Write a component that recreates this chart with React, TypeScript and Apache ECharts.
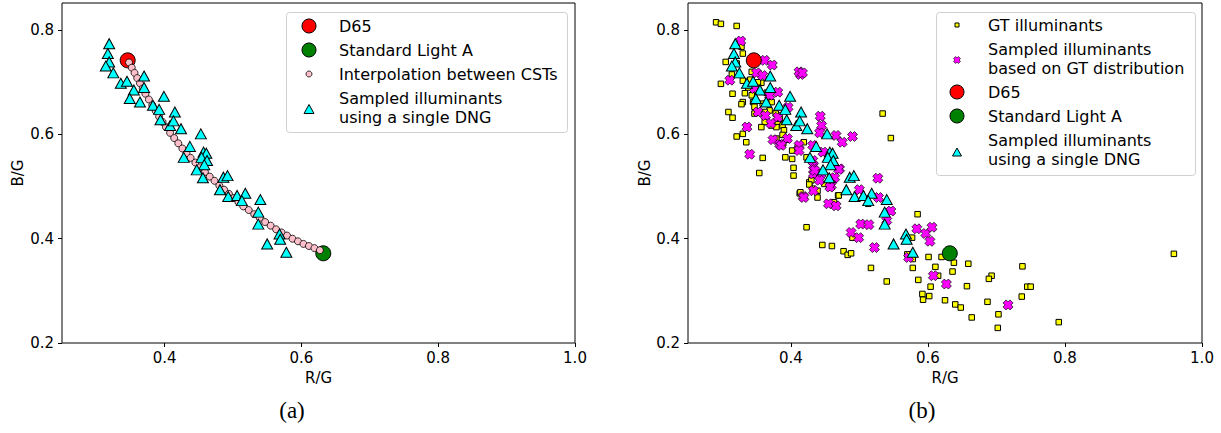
import React, { useEffect, useRef } from "react";
import * as echarts from "echarts";

// ---------- data ----------
const xTicks = [0.4, 0.6, 0.8, 1.0];
const yTicks = [0.2, 0.4, 0.6, 0.8];

const d65 = [[0.346, 0.742]];
const lightA = [[0.632, 0.372]];

const interpolation = [
  [0.348, 0.738], [0.352, 0.728], [0.356, 0.718], [0.360, 0.708], [0.364, 0.698],
  [0.368, 0.688], [0.372, 0.678], [0.377, 0.667], [0.382, 0.656], [0.387, 0.645],
  [0.392, 0.634], [0.397, 0.624], [0.402, 0.614], [0.408, 0.603], [0.414, 0.593],
  [0.420, 0.583], [0.426, 0.573], [0.432, 0.564], [0.438, 0.555], [0.445, 0.546],
  [0.452, 0.537], [0.459, 0.528], [0.466, 0.519], [0.473, 0.511], [0.480, 0.502],
  [0.487, 0.494], [0.494, 0.486], [0.501, 0.478], [0.508, 0.470], [0.515, 0.462],
  [0.523, 0.455], [0.531, 0.447], [0.539, 0.440], [0.547, 0.432], [0.555, 0.425],
  [0.563, 0.418], [0.571, 0.412], [0.579, 0.406], [0.587, 0.400], [0.595, 0.395],
  [0.603, 0.390], [0.611, 0.386], [0.619, 0.382], [0.627, 0.378],
];

const singleDng = [
  [0.319, 0.774], [0.317, 0.755], [0.319, 0.739], [0.314, 0.731], [0.325, 0.718],
  [0.336, 0.698], [0.345, 0.702], [0.370, 0.712], [0.355, 0.685], [0.370, 0.690],
  [0.349, 0.669], [0.364, 0.662], [0.399, 0.673], [0.383, 0.656], [0.392, 0.648],
  [0.415, 0.643], [0.394, 0.628], [0.408, 0.617], [0.413, 0.626], [0.424, 0.611],
  [0.453, 0.601], [0.437, 0.577], [0.428, 0.556], [0.457, 0.566], [0.461, 0.564],
  [0.454, 0.556], [0.462, 0.550], [0.458, 0.542], [0.447, 0.532], [0.456, 0.517],
  [0.486, 0.518], [0.492, 0.521], [0.481, 0.494], [0.493, 0.481], [0.506, 0.483],
  [0.518, 0.487], [0.513, 0.473], [0.540, 0.475], [0.537, 0.451], [0.537, 0.428],
  [0.568, 0.409], [0.569, 0.399], [0.550, 0.390], [0.578, 0.374],
];

const gtIlluminants = [
  [0.291, 0.815], [0.298, 0.812], [0.321, 0.808], [0.328, 0.768], [0.330, 0.755],
  [0.305, 0.739], [0.321, 0.736], [0.314, 0.715], [0.298, 0.697], [0.315, 0.678],
  [0.330, 0.662], [0.309, 0.643], [0.315, 0.632], [0.343, 0.720], [0.330, 0.703],
  [0.341, 0.705], [0.333, 0.679], [0.357, 0.699], [0.343, 0.675], [0.345, 0.662],
  [0.347, 0.653], [0.359, 0.659], [0.372, 0.662], [0.369, 0.646], [0.362, 0.643],
  [0.347, 0.640], [0.362, 0.624], [0.372, 0.617], [0.381, 0.624], [0.379, 0.614],
  [0.388, 0.617], [0.357, 0.614], [0.328, 0.658], [0.321, 0.596], [0.330, 0.601],
  [0.335, 0.585], [0.359, 0.555], [0.354, 0.526], [0.392, 0.556], [0.404, 0.536],
  [0.404, 0.521], [0.389, 0.583], [0.379, 0.592], [0.534, 0.640], [0.546, 0.593],
  [0.413, 0.487], [0.427, 0.508], [0.439, 0.492], [0.390, 0.608], [0.388, 0.599],
  [0.419, 0.585], [0.402, 0.569], [0.402, 0.553], [0.423, 0.556], [0.430, 0.512],
  [0.432, 0.496], [0.414, 0.489], [0.439, 0.479], [0.449, 0.505], [0.469, 0.483],
  [0.427, 0.504], [0.423, 0.422], [0.446, 0.388], [0.460, 0.386], [0.477, 0.376],
  [0.483, 0.369], [0.488, 0.372], [0.470, 0.483], [0.490, 0.402], [0.517, 0.344],
  [0.540, 0.318], [0.513, 0.467], [0.463, 0.470], [0.585, 0.447], [0.578, 0.361],
  [0.578, 0.344], [0.586, 0.321], [0.570, 0.370], [0.601, 0.365], [0.604, 0.308],
  [0.592, 0.294], [0.593, 0.283], [0.602, 0.290], [0.611, 0.346], [0.577, 0.402],
  [0.615, 0.329], [0.620, 0.365], [0.638, 0.354], [0.636, 0.337], [0.659, 0.352],
  [0.657, 0.309], [0.625, 0.282], [0.640, 0.274], [0.648, 0.268], [0.664, 0.249],
  [0.738, 0.347], [0.693, 0.329], [0.689, 0.323], [0.745, 0.308], [0.750, 0.308],
  [0.737, 0.289], [0.687, 0.279], [0.703, 0.255], [0.702, 0.229], [0.791, 0.240],
  [0.959, 0.371], [0.352, 0.700], [0.338, 0.690], [0.365, 0.680], [0.378, 0.640],
  [0.384, 0.630], [0.395, 0.590], [0.410, 0.575],
];

const gtSampled = [
  [0.327, 0.779], [0.362, 0.742], [0.373, 0.733], [0.414, 0.715], [0.311, 0.704],
  [0.350, 0.718], [0.359, 0.713], [0.381, 0.681], [0.347, 0.688], [0.369, 0.675],
  [0.352, 0.643], [0.363, 0.636], [0.381, 0.633], [0.396, 0.652], [0.336, 0.614],
  [0.371, 0.621], [0.340, 0.562], [0.374, 0.590], [0.384, 0.581], [0.395, 0.592],
  [0.412, 0.579], [0.412, 0.569], [0.443, 0.635], [0.445, 0.617], [0.442, 0.603],
  [0.466, 0.598], [0.475, 0.585], [0.490, 0.596], [0.433, 0.540], [0.433, 0.524],
  [0.444, 0.524], [0.471, 0.534], [0.527, 0.516], [0.442, 0.512], [0.459, 0.512],
  [0.500, 0.494], [0.418, 0.481], [0.433, 0.492], [0.459, 0.502], [0.412, 0.720],
  [0.417, 0.718], [0.432, 0.579], [0.386, 0.579], [0.447, 0.566], [0.432, 0.550],
  [0.435, 0.531], [0.470, 0.533], [0.464, 0.517], [0.457, 0.499], [0.419, 0.479],
  [0.528, 0.479], [0.455, 0.467], [0.466, 0.463], [0.546, 0.453], [0.540, 0.435],
  [0.502, 0.428], [0.514, 0.427], [0.488, 0.412], [0.499, 0.402], [0.522, 0.383],
  [0.572, 0.364], [0.584, 0.419], [0.597, 0.410], [0.606, 0.422], [0.603, 0.395],
  [0.608, 0.329], [0.627, 0.313], [0.717, 0.273],
];

// ---------- styling ----------
const FONT = "DejaVu Sans";
const TICK_FS = 15;
const LEG_FS = 16;
const X_PATH =
  "path://M0.3,0L0.5,0.2L0.7,0L1,0.3L0.8,0.5L1,0.7L0.7,1L0.5,0.8L0.3,1L0,0.7L0.2,0.5L0,0.3Z";

function xShape(cx: number, cy: number, s: number) {
  const p = [
    [0.3, 0], [0.5, 0.2], [0.7, 0], [1, 0.3], [0.8, 0.5], [1, 0.7],
    [0.7, 1], [0.5, 0.8], [0.3, 1], [0, 0.7], [0.2, 0.5], [0, 0.3],
  ];
  return p.map(([a, b]) => [cx - s / 2 + a * s, cy - s / 2 + b * s]);
}

function triShape(cx: number, cy: number, w: number, h: number) {
  return [
    [cx, cy - h / 2],
    [cx + w / 2, cy + h / 2],
    [cx - w / 2, cy + h / 2],
  ];
}

function makeXAxis(gridIndex: number) {
  return {
    gridIndex,
    type: "value",
    min: 0.25,
    max: 1.0,
    name: "R/G",
    nameLocation: "middle",
    nameGap: 27,
    nameTextStyle: { fontSize: TICK_FS, color: "#000", fontFamily: FONT },
    axisLine: { show: false },
    axisTick: {
      show: true,
      length: 4,
      inside: false,
      customValues: xTicks,
      lineStyle: { color: "#000", width: 1 },
    },
    axisLabel: {
      customValues: xTicks,
      formatter: (v: number) => v.toFixed(1),
      fontSize: TICK_FS,
      color: "#000",
      fontFamily: FONT,
      margin: 7,
    },
    splitLine: { show: false },
  };
}

function makeYAxis(gridIndex: number, gap: number) {
  return {
    gridIndex,
    type: "value",
    min: 0.2,
    max: 0.852,
    name: "B/G",
    nameLocation: "middle",
    nameGap: gap,
    nameRotate: 90,
    nameTextStyle: { fontSize: TICK_FS, color: "#000", fontFamily: FONT },
    axisLine: { show: false },
    axisTick: {
      show: true,
      length: 4,
      inside: false,
      customValues: yTicks,
      lineStyle: { color: "#000", width: 1 },
    },
    axisLabel: {
      customValues: yTicks,
      formatter: (v: number) => v.toFixed(1),
      fontSize: TICK_FS,
      color: "#000",
      fontFamily: FONT,
      margin: 8,
    },
    splitLine: { show: false },
  };
}

function scatter(
  name: string,
  data: number[][],
  idx: number,
  symbol: string,
  size: number | number[],
  color: string,
  bw = 1
) {
  return {
    type: "scatter",
    name,
    data,
    xAxisIndex: idx,
    yAxisIndex: idx,
    symbol,
    symbolSize: size,
    itemStyle: { color, borderColor: "#000", borderWidth: bw, opacity: 1 },
    silent: true,
    emphasis: { disabled: true },
  };
}

const textStyle = (x: number, y: number, t: string) => ({
  type: "text",
  x,
  y,
  style: {
    text: t,
    fontSize: LEG_FS,
    fontFamily: FONT,
    fill: "#000",
    textVerticalAlign: "middle",
    verticalAlign: "middle",
  },
});

function buildGraphic() {
  const g: any[] = [];
  // left legend
  g.push({
    type: "rect",
    shape: { x: 286.5, y: 12.5, width: 281, height: 120, r: 3 },
    style: { fill: "rgba(255,255,255,0.8)", stroke: "#d0d0d0", lineWidth: 1 },
  });
  g.push({ type: "circle", shape: { cx: 309, cy: 26, r: 7 }, style: { fill: "#ff0000", stroke: "#000", lineWidth: 1 } });
  g.push({ type: "circle", shape: { cx: 309, cy: 50, r: 7 }, style: { fill: "#008000", stroke: "#000", lineWidth: 1 } });
  g.push({ type: "circle", shape: { cx: 309, cy: 74, r: 3 }, style: { fill: "#ffc0cb", stroke: "#000", lineWidth: 0.8 } });
  g.push({ type: "polygon", shape: { points: triShape(309, 109, 10, 9) }, style: { fill: "#00ffff", stroke: "#000", lineWidth: 1 } });
  g.push(textStyle(339, 26, "D65"));
  g.push(textStyle(339, 50, "Standard Light A"));
  g.push(textStyle(339, 74, "Interpolation between CSTs"));
  g.push(textStyle(339, 98, "Sampled illuminants"));
  g.push(textStyle(339, 117, "using a single DNG"));

  // right legend
  g.push({
    type: "rect",
    shape: { x: 936.5, y: 12.5, width: 259, height: 163, r: 3 },
    style: { fill: "rgba(255,255,255,0.8)", stroke: "#d0d0d0", lineWidth: 1 },
  });
  g.push({ type: "rect", shape: { x: 955, y: 23, width: 4, height: 4 }, style: { fill: "#ffff00", stroke: "#000", lineWidth: 1 } });
  g.push({ type: "polygon", shape: { points: xShape(957, 60, 7) }, style: { fill: "#ff00ff", stroke: "#000", lineWidth: 0.6 } });
  g.push({ type: "circle", shape: { cx: 957, cy: 92, r: 7 }, style: { fill: "#ff0000", stroke: "#000", lineWidth: 1 } });
  g.push({ type: "circle", shape: { cx: 957, cy: 116, r: 7 }, style: { fill: "#008000", stroke: "#000", lineWidth: 1 } });
  g.push({ type: "polygon", shape: { points: triShape(957, 152, 9, 8) }, style: { fill: "#00ffff", stroke: "#000", lineWidth: 1 } });
  g.push(textStyle(988, 25, "GT illuminants"));
  g.push(textStyle(988, 49, "Sampled illuminants"));
  g.push(textStyle(988, 68, "based on GT distribution"));
  g.push(textStyle(988, 92, "D65"));
  g.push(textStyle(988, 116, "Standard Light A"));
  g.push(textStyle(988, 140, "Sampled illuminants"));
  g.push(textStyle(988, 159, "using a single DNG"));

  // captions
  const cap = (x: number, t: string) => ({
    type: "text",
    x,
    y: 410,
    style: {
      text: t,
      fontSize: 23,
      fontFamily: "Liberation Serif",
      fill: "#000",
      align: "center",
      textAlign: "center",
      verticalAlign: "middle",
      textVerticalAlign: "middle",
    },
  });
  g.push(cap(292, "(a)"));
  g.push(cap(922, "(b)"));
  return g;
}

export default function App() {
  const ref = useRef<HTMLDivElement>(null);
  useEffect(() => {
    if (!ref.current) return;
    const chart = echarts.init(ref.current, undefined, { renderer: "svg" });
    const option: any = {
      animation: false,
      backgroundColor: "#fff",
      textStyle: { fontFamily: FONT },
      grid: [
        { left: 62, top: 3, width: 513, height: 340, show: true, borderColor: "#000", borderWidth: 1, backgroundColor: "transparent" },
        { left: 688, top: 3, width: 514, height: 340, show: true, borderColor: "#000", borderWidth: 1, backgroundColor: "transparent" },
      ],
      xAxis: [makeXAxis(0), makeXAxis(1)],
      yAxis: [makeYAxis(0, 37), makeYAxis(1, 34)],
      series: [
        scatter("D65", d65, 0, "circle", 15, "#ff0000"),
        scatter("Standard Light A", lightA, 0, "circle", 15, "#008000"),
        scatter("Interpolation between CSTs", interpolation, 0, "circle", 7, "#ffc0cb", 0.8),
        scatter("Sampled illuminants using a single DNG", singleDng, 0, "triangle", [11, 10], "#00ffff"),
        scatter("GT illuminants", gtIlluminants, 1, "rect", 5.5, "#ffff00"),
        scatter("Sampled illuminants based on GT distribution", gtSampled, 1, X_PATH, 10, "#ff00ff", 0.7),
        scatter("D65", d65, 1, "circle", 15, "#ff0000"),
        scatter("Standard Light A", lightA, 1, "circle", 15, "#008000"),
        scatter("Sampled illuminants using a single DNG", singleDng, 1, "triangle", [11, 10], "#00ffff"),
      ],
      graphic: buildGraphic(),
    };
    chart.setOption(option);
    return () => chart.dispose();
  }, []);
  return (
    <div
      ref={ref}
      style={{ position: "absolute", left: 0, top: 0, width: 1221, height: 433 }}
    />
  );
}
